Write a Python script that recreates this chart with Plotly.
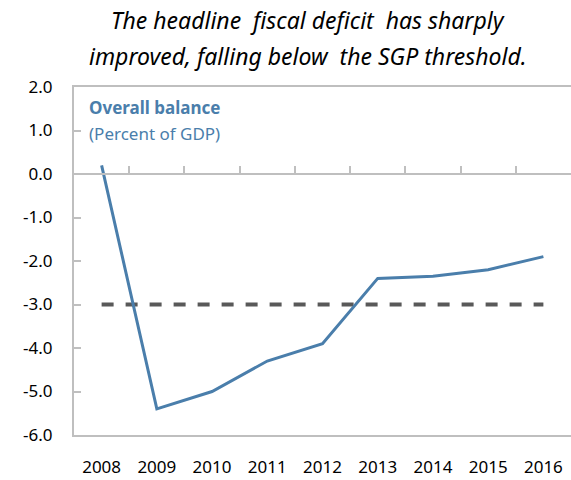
import plotly.graph_objects as go

years = [2008, 2009, 2010, 2011, 2012, 2013, 2014, 2015, 2016]
overall_balance = [0.2, -5.4, -5.0, -4.3, -3.9, -2.4, -2.35, -2.2, -1.9]
sgp_threshold = [-3.0] * len(years)
y_ticks = [2.0, 1.0, 0.0, -1.0, -2.0, -3.0, -4.0, -5.0, -6.0]
y_tick_labels = [f"{v:.1f}" for v in y_ticks]
boundaries = [y + 0.5 for y in years[:-1]]

title_lines = ["The headline  fiscal deficit  has sharply",
               "improved, falling below  the SGP threshold."]

BLUE = "#4a7eab"
GRAY = "#bfbfbf"
FONT = "Noto Sans"

fig = go.Figure()
fig.add_trace(go.Scatter(x=years, y=sgp_threshold, mode="lines",
                         line=dict(color="#595959", width=4, dash="dash"),
                         hoverinfo="skip", showlegend=False))
fig.add_trace(go.Scatter(x=years, y=overall_balance, mode="lines",
                         line=dict(color=BLUE, width=3),
                         showlegend=False))
# invisible trace on secondary x axis for zero-line ticks
fig.add_trace(go.Scatter(x=[years[0]], y=[0], xaxis="x2", mode="markers",
                         marker=dict(opacity=0), hoverinfo="skip", showlegend=False))

fig.update_layout(
    width=571, height=480,
    margin=dict(l=74, r=0, t=87, b=45, autoexpand=False),
    paper_bgcolor="white", plot_bgcolor="white",
    font=dict(family=FONT, size=17, color="#000000"),
    xaxis=dict(range=[2007.5, 2016.5], tickmode="array", tickvals=years,
               ticktext=[str(y) for y in years], showgrid=False, zeroline=False,
               showline=True, mirror=True, linecolor=GRAY, linewidth=2,
               ticks="", ticklabelstandoff=16, automargin=False,
               tickfont=dict(family=FONT, size=17)),
    xaxis2=dict(range=[2007.5, 2016.5], overlaying="x", anchor="free", position=0.75,
                side="bottom", tickmode="array", tickvals=boundaries,
                showticklabels=False, showgrid=False, zeroline=False,
                showline=True, linecolor=GRAY, linewidth=2, automargin=False,
                ticks="inside", ticklen=7, tickwidth=2, tickcolor=GRAY),
    yaxis=dict(range=[-6, 2], tickmode="array", tickvals=y_ticks,
               ticktext=y_tick_labels, showgrid=False, zeroline=False,
               showline=True, linecolor=GRAY, linewidth=2, automargin=False,
               ticks="inside", ticklen=7, tickwidth=2, tickcolor=GRAY,
               ticklabelstandoff=16, tickfont=dict(family=FONT, size=17)),
)

fig.add_annotation(text=title_lines[0], xref="paper", yref="paper",
                   x=0.471, y=1.0, yshift=67, showarrow=False, xanchor="center", yanchor="middle",
                   font=dict(family=FONT, size=23, style="italic", color="#000000"))
fig.add_annotation(text=title_lines[1], xref="paper", yref="paper",
                   x=0.471, y=1.0, yshift=31, showarrow=False, xanchor="center", yanchor="middle",
                   font=dict(family=FONT, size=23, style="italic", color="#000000"))
fig.add_annotation(text="<b>Overall balance</b>", xref="paper", yref="paper",
                   x=0.0, xshift=13, y=1.0, yshift=-20, showarrow=False, xanchor="left", yanchor="middle",
                   font=dict(family=FONT, size=17, color=BLUE))
fig.add_annotation(text="(Percent of GDP)", xref="paper", yref="paper",
                   x=0.0, xshift=13, y=1.0, yshift=-46, showarrow=False, xanchor="left", yanchor="middle",
                   font=dict(family=FONT, size=17, color=BLUE))

fig.write_html("out.html", config={"displayModeBar": False},
               post_script="document.body.style.margin='0';document.body.style.overflow='hidden';")
